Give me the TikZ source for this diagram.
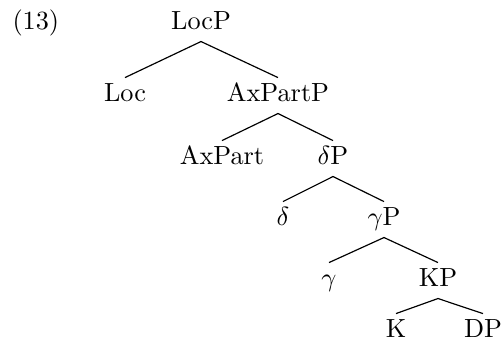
\documentclass[tikz,border=0pt]{standalone}
\begin{document}
\begin{tikzpicture}[x=0.381pt, y=-0.381pt,
  cat/.style={anchor=base, inner sep=0pt, text height=9.1pt, text depth=4.2pt},
  branch/.style={line width=0.45pt}]
\useasboundingbox (0,0) rectangle (501,340);
% example number
\node[anchor=base west, inner sep=0pt] (num) at (12,30) {(13)};
% tree nodes, placed on their baselines
\node[cat] (locp)   at (201,30)  {LocP};
\node[cat] (loc)    at (125,102) {Loc};
\node[cat] (axpp)   at (278,102) {AxPartP};
\node[cat] (axp)    at (222,165) {AxPart};
\node[cat] (dp)     at (333,165) {$\delta$P};
\node[cat] (d)      at (283,226) {$\delta$};
\node[cat] (gp)     at (384,226) {$\gamma$P};
\node[cat] (g)      at (329,287) {$\gamma$};
\node[cat] (kp)     at (438,287) {KP};
\node[cat] (k)      at (396,338) {K};
\node[cat] (dpp)    at (483,338) {DP};
% branches
\draw[branch] (loc.north) -- (locp.south) -- (axpp.north);
\draw[branch] (axp.north) -- (axpp.south) -- (dp.north);
\draw[branch] (d.north) -- (dp.south) -- (gp.north);
\draw[branch] (g.north) -- (gp.south) -- (kp.north);
\draw[branch] (k.north) -- (kp.south) -- (dpp.north);
\end{tikzpicture}
\end{document}
